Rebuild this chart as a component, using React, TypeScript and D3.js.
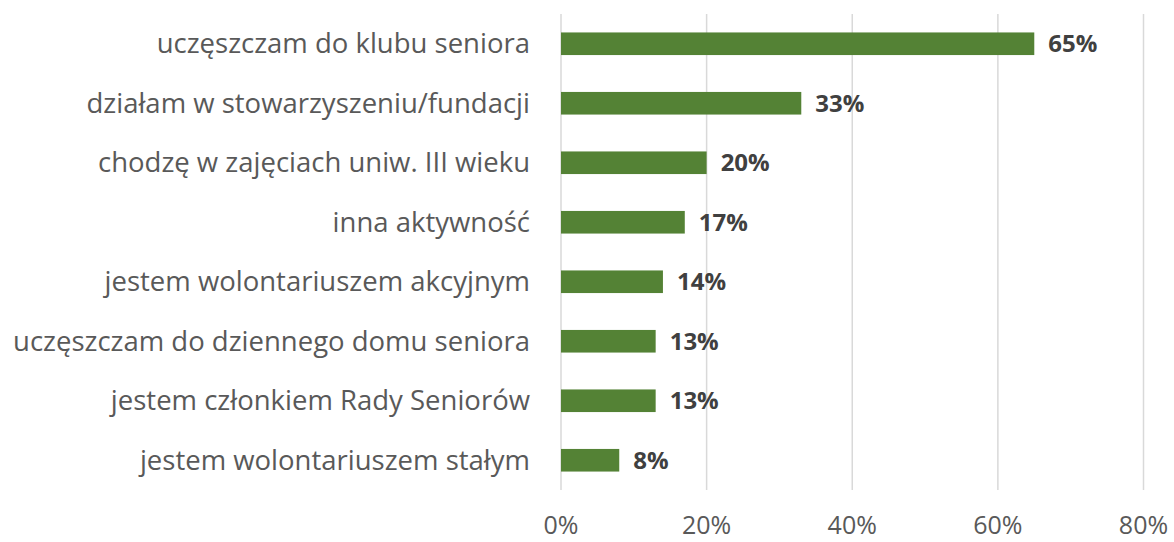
import React from "react";
import * as d3 from "d3";

const categories = [
  "uczęszczam do klubu seniora",
  "działam w stowarzyszeniu/fundacji",
  "chodzę w zajęciach uniw. III wieku",
  "inna aktywność",
  "jestem wolontariuszem akcyjnym",
  "uczęszczam do dziennego domu seniora",
  "jestem członkiem Rady Seniorów",
  "jestem wolontariuszem stałym",
];
const values = [65, 33, 20, 17, 14, 13, 13, 8];
const ticks = [0, 20, 40, 60, 80];

const W = 1174;
const H = 542;
const margin = { top: 14, right: 30, bottom: 52, left: 561 };

export default function App() {
  const x = d3
    .scaleLinear()
    .domain([0, 80])
    .range([margin.left, 1143.5]);

  const y = d3
    .scaleBand()
    .domain(categories)
    .range([margin.top, H - margin.bottom])
    .paddingInner(0.62)
    .paddingOuter(0.31);

  const font = "'Open Sans', 'Noto Sans', sans-serif";

  return (
    <svg
      width={W}
      height={H}
      style={{ position: "absolute", left: 0, top: 0, background: "#fff" }}
    >
      {/* gridlines */}
      {ticks.map((t) => (
        <line
          key={t}
          x1={x(t)}
          x2={x(t)}
          y1={margin.top}
          y2={H - margin.bottom}
          stroke="#d9d9d9"
          strokeWidth={1.5}
        />
      ))}

      {/* bars */}
      {categories.map((c, i) => (
        <rect
          key={c}
          x={x(0)}
          y={y(c)}
          width={x(values[i]) - x(0)}
          height={y.bandwidth()}
          fill="#548235"
        />
      ))}

      {/* value labels */}
      {categories.map((c, i) => (
        <text
          key={c}
          x={x(values[i]) + 14}
          y={(y(c) ?? 0) + y.bandwidth() / 2}
          dy="0.36em"
          fontFamily={font}
          fontWeight="bold"
          fontSize={24}
          fill="#404040"
        >
          {values[i]}%
        </text>
      ))}

      {/* category labels */}
      {categories.map((c) => (
        <text
          key={c}
          x={margin.left - 31}
          y={(y(c) ?? 0) + y.bandwidth() / 2}
          dy="0.35em"
          textAnchor="end"
          fontFamily={font}
          fontSize={27.5}
          fill="#595959"
        >
          {c}
        </text>
      ))}

      {/* x tick labels */}
      {ticks.map((t) => (
        <text
          key={t}
          x={x(t)}
          y={534}
          textAnchor="middle"
          fontFamily={font}
          fontSize={25}
          fill="#595959"
        >
          {t}%
        </text>
      ))}
    </svg>
  );
}
